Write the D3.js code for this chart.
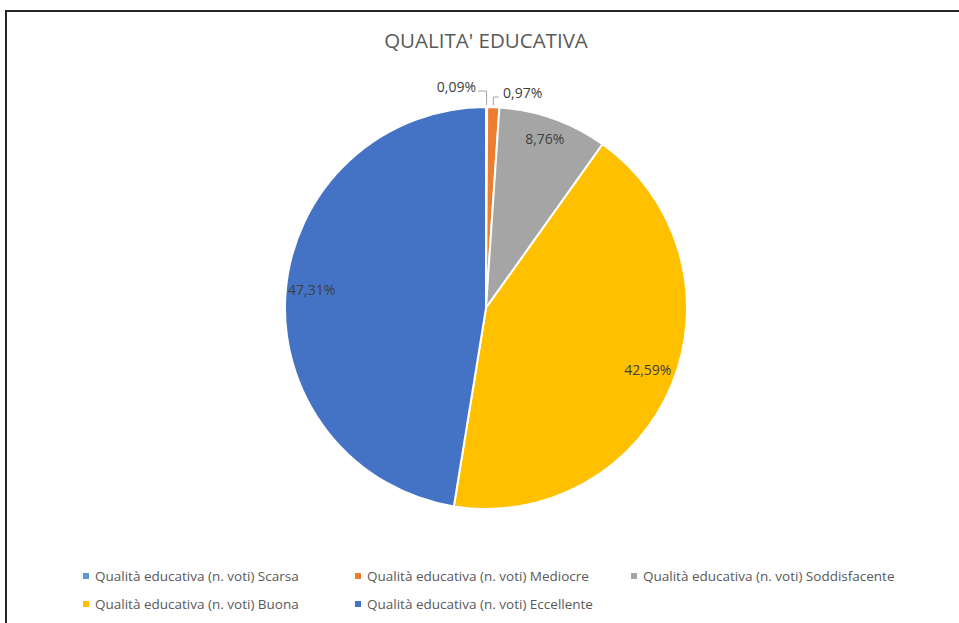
<html>
<script src="https://d3js.org/d3.v7.min.js"></script>
<style>
    body { margin: 0; background: #fff; }
    text { font-family: "Open Sans", sans-serif; }
</style>
<body>
<svg width="959" height="623" id="chart"></svg>
<script>
// data
var categories = ["Scarsa", "Mediocre", "Soddisfacente", "Buona", "Eccellente"];
var values = [0.09, 0.97, 8.76, 42.59, 47.31];
var labels = ["0,09%", "0,97%", "8,76%", "42,59%", "47,31%"];
var colors = ["#5B9BD5", "#ED7D31", "#A5A5A5", "#FFC000", "#4472C4"];
var legendPrefix = "Qualità educativa (n. voti) ";

var svg = d3.select("#chart");
var cx = 486, cy = 308, r = 201;

// frame
svg.append("path")
    .attr("d", "M6,623 V11 H959")
    .attr("fill", "none")
    .attr("stroke", "#262626")
    .attr("stroke-width", 2);

svg.append("text")
    .attr("x", cx).attr("y", 48)
    .attr("text-anchor", "middle")
    .attr("font-size", 20.5)
    .attr("fill", "#595959")
    .text("QUALITA' EDUCATIVA");

var data = categories.map(function (c, i) {
    return { cat: c, value: values[i], label: labels[i], color: colors[i] };
});

var pie = d3.pie().sort(null).value(function (d) { return d.value; });
var arc = d3.arc().innerRadius(0).outerRadius(r);
var arcs = pie(data);

var g = svg.append("g").attr("transform", "translate(" + cx + "," + cy + ")");

g.selectAll("path.slice")
    .data(arcs)
    .enter()
    .append("path")
    .attr("class", "slice")
    .attr("d", arc)
    .attr("fill", function (d) { return d.data.color; })
    .attr("stroke", "#fff")
    .attr("stroke-width", 2);

// inside labels for the big slices
var labelArc = d3.arc().innerRadius(r * 0.87).outerRadius(r * 0.87);
g.selectAll("text.inlbl")
    .data(arcs.slice(2))
    .enter()
    .append("text")
    .attr("class", "inlbl")
    .attr("transform", function (d) {
        var c = labelArc.centroid(d);
        return "translate(" + c[0] + "," + (c[1] - 4) + ")";
    })
    .attr("text-anchor", "middle")
    .attr("dy", "0.35em")
    .attr("font-size", 14)
    .attr("fill", "#404040")
    .text(function (d) { return d.data.label; });

// outside labels with leader lines for the two tiny slices
var outer = d3.arc().innerRadius(r + 2).outerRadius(r + 2);
var small = [
    { a: arcs[0], knee: -217, endX: -8, tx: -10, side: -1 },
    { a: arcs[1], knee: -211, endX: 13, tx: 17, side: 1 }
];
small.forEach(function (s) {
    var p = outer.centroid(s.a);
    g.append("path")
        .attr("d", "M" + p[0] + "," + p[1] + " V" + s.knee + " H" + s.endX)
        .attr("fill", "none")
        .attr("stroke", "#A6A6A6")
        .attr("stroke-width", 1);
    g.append("text")
        .attr("x", s.tx)
        .attr("y", s.knee + 1)
        .attr("text-anchor", s.side < 0 ? "end" : "start")
        .attr("font-size", 14)
        .attr("fill", "#404040")
        .text(s.a.data.label);
});

// legend
var legendPos = [[86, 576], [358, 576], [634, 576], [86, 604], [358, 604]];
var lg = svg.selectAll("g.legend")
    .data(data)
    .enter()
    .append("g")
    .attr("class", "legend")
    .attr("transform", function (d, i) { return "translate(" + legendPos[i][0] + "," + legendPos[i][1] + ")"; });
lg.append("rect")
    .attr("x", -3).attr("y", -3).attr("width", 6).attr("height", 6)
    .attr("fill", function (d) { return d.color; });
lg.append("text")
    .attr("x", 9).attr("y", 0)
    .attr("dy", "0.35em")
    .attr("font-size", 13.5)
    .attr("fill", "#595959")
    .text(function (d) { return legendPrefix + d.cat; });
</script>
</body>
</html>
